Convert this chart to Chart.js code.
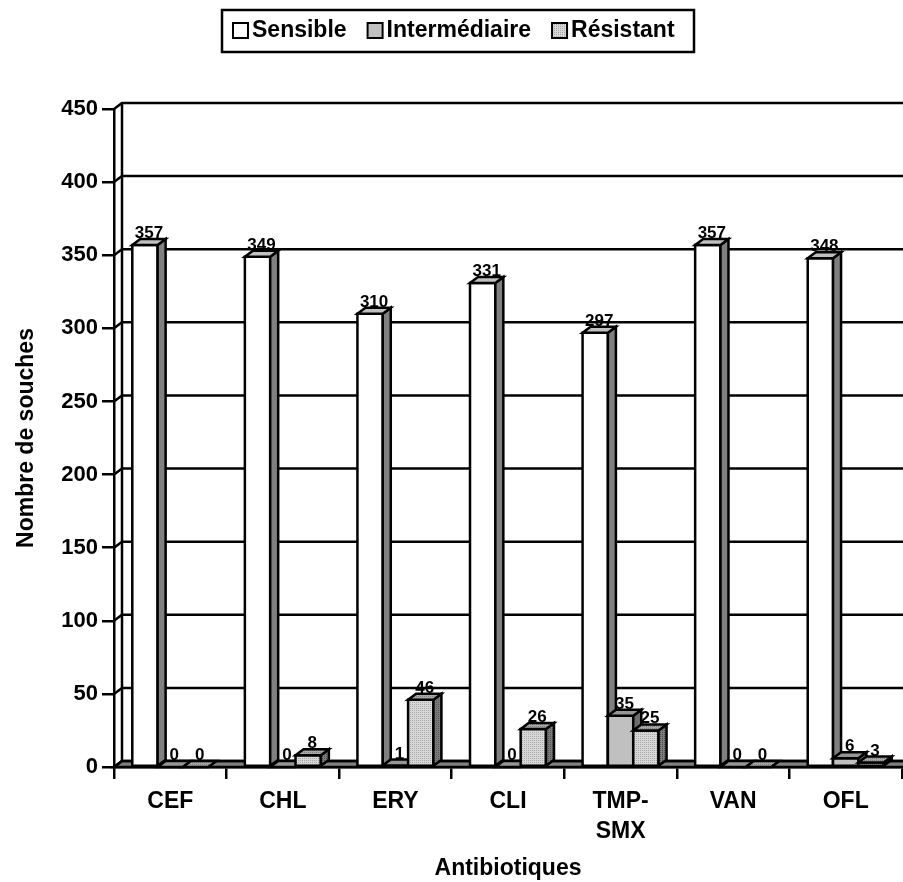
<!DOCTYPE html>
<html>
<head>
<meta charset="utf-8">
<script src="https://cdn.jsdelivr.net/npm/chart.js@4.4.1/dist/chart.umd.min.js"></script>
<style>
  html, body { margin: 0; padding: 0; background: #fff; }
  canvas { display: block; }
</style>
</head>
<body>
<canvas id="chart" width="903" height="882"></canvas>
<script>
// data
var categories = ['CEF', 'CHL', 'ERY', 'CLI', ['TMP-', 'SMX'], 'VAN', 'OFL'];
var seriesNames = ['Sensible', 'Intermédiaire', 'Résistant'];
var sensible = [357, 349, 310, 331, 297, 357, 348];
var intermediaire = [0, 0, 1, 0, 35, 0, 6];
var resistant = [0, 8, 46, 26, 25, 0, 3];
var yMax = 450;
var yStep = 50;

var FONT = 'Liberation Sans, Arial, sans-serif';
var DX = 8, DY = -6;   // depth of the 3d effect

var canvas = document.getElementById('chart');
var ctx = canvas.getContext('2d');

function dots(base, dot) {
  var c = document.createElement('canvas');
  c.width = 4; c.height = 4;
  var g = c.getContext('2d');
  g.fillStyle = base; g.fillRect(0, 0, 4, 4);
  g.fillStyle = dot;
  g.fillRect(0, 0, 1, 1); g.fillRect(2, 2, 1, 1);
  g.fillRect(2, 0, 1, 1); g.fillRect(0, 2, 1, 1);
  return ctx.createPattern(c, 'repeat');
}

// front / top / side colours per series
var faces = [
  { front: '#ffffff', top: '#c0c0c0', side: '#808080' },
  { front: '#c0c0c0', top: '#969696', side: '#6e6e6e' },
  { front: dots('#d8d8d8', '#a8a8a8'), top: dots('#a8a8a8', '#808080'), side: dots('#7c7c7c', '#505050') }
];

function poly(pts, fill) {
  ctx.beginPath();
  ctx.moveTo(pts[0][0], pts[0][1]);
  for (var k = 1; k < pts.length; k++) ctx.lineTo(pts[k][0], pts[k][1]);
  ctx.closePath();
  ctx.fillStyle = fill;
  ctx.fill();
  ctx.stroke();
}

var threeD = {
  id: 'threeD',
  beforeDatasetsDraw: function(chart) {
    var a = chart.chartArea, y = chart.scales.y;
    ctx.save();
    ctx.strokeStyle = '#000';
    ctx.lineWidth = 2.5;
    var y0 = y.getPixelForValue(0);
    var yTop = y.getPixelForValue(yMax);
    // floor
    poly([[a.left, y0], [a.right + 20, y0], [a.right + 20 + DX, y0 + DY], [a.left + DX, y0 + DY]], '#808080');
    // back wall lines
    y.ticks.forEach(function(t) {
      var py = y.getPixelForValue(t.value);
      ctx.beginPath();
      ctx.moveTo(a.left, py);
      ctx.lineTo(a.left + DX, py + DY);
      ctx.lineTo(chart.width + 5, py + DY);
      ctx.stroke();
    });
    ctx.beginPath();
    ctx.moveTo(a.left + DX, yTop + DY);
    ctx.lineTo(a.left + DX, y0 + DY);
    ctx.stroke();
    ctx.restore();
  },
  afterDatasetsDraw: function(chart) {
    ctx.save();
    ctx.strokeStyle = '#000';
    ctx.lineWidth = 2.5;
    ctx.lineJoin = 'miter';
    var labels = [];
    chart.data.datasets.forEach(function(ds, i) {
      var f = faces[i];
      chart.getDatasetMeta(i).data.forEach(function(bar, j) {
        var p = bar.getProps(['x', 'y', 'base', 'width'], true);
        var l = p.x - p.width / 2, r = p.x + p.width / 2;
        if (p.base - p.y > 0.5) poly([[l, p.y], [r, p.y], [r, p.base], [l, p.base]], f.front);
        poly([[r, p.y], [r + DX, p.y + DY], [r + DX, p.base + DY], [r, p.base]], f.side);
        poly([[l, p.y], [r, p.y], [r + DX, p.y + DY], [l + DX, p.y + DY]], f.top);
        labels.push([ds.data[j], p.x + DX / 2, p.y + DY - 1]);
      });
    });
    ctx.fillStyle = '#000';
    ctx.font = 'bold 17px ' + FONT;
    ctx.textAlign = 'center';
    ctx.textBaseline = 'alphabetic';
    labels.forEach(function(t) { ctx.fillText(String(t[0]), t[1], t[2]); });
    ctx.restore();
  },
  afterDraw: function(chart) {
    // boxed legend
    ctx.save();
    ctx.strokeStyle = '#000';
    ctx.lineWidth = 2.5;
    ctx.strokeRect(222, 10, 472, 42);
    ctx.font = 'bold 23px ' + FONT;
    ctx.textBaseline = 'middle';
    ctx.textAlign = 'left';
    var x = 233;
    chart.data.datasets.forEach(function(ds, i) {
      ctx.lineWidth = 2;
      ctx.fillStyle = faces[i].front;
      ctx.fillRect(x, 23, 15, 15);
      ctx.strokeRect(x, 23, 15, 15);
      ctx.fillStyle = '#000';
      ctx.fillText(ds.label, x + 19, 31);
      x += 19 + ctx.measureText(ds.label).width + 21;
    });
    ctx.restore();
  }
};

var datasets = [sensible, intermediaire, resistant].map(function(values, i) {
  return {
    label: seriesNames[i],
    data: values,
    backgroundColor: 'rgba(0,0,0,0)',
    borderWidth: 0,
    categoryPercentage: 0.675,
    barPercentage: 1.0
  };
});

new Chart(canvas, {
  type: 'bar',
  data: { labels: categories, datasets: datasets },
  options: {
    responsive: false,
    animation: false,
    events: [],
    layout: { padding: { top: 109, right: 1, left: 0, bottom: 0 } },
    plugins: { legend: { display: false }, tooltip: { enabled: false } },
    scales: {
      x: {
        offset: true,
        afterFit: function(s) { s.height = 115; },
        grid: { offset: true, drawOnChartArea: false, drawTicks: true, tickLength: 12, color: '#000', lineWidth: 2.5 },
        border: { display: true, color: '#000', width: 2.5 },
        ticks: { color: '#000', padding: 8, maxRotation: 0, autoSkip: false,
                 font: { family: FONT, size: 23, weight: 'bold', lineHeight: 1.3 } },
        title: { display: true, text: 'Antibiotiques', color: '#000', padding: { top: 0, bottom: 0 },
                 font: { family: FONT, size: 23, weight: 'bold' } }
      },
      y: {
        min: 0,
        max: yMax,
        afterFit: function(s) { s.width = 114; },
        grid: { drawOnChartArea: false, drawTicks: true, tickLength: 12, color: '#000', lineWidth: 2.5 },
        border: { display: true, color: '#000', width: 2.5 },
        ticks: { stepSize: yStep, color: '#000', padding: 4,
                 font: { family: FONT, size: 22, weight: 'bold' } },
        title: { display: true, text: 'Nombre de souches', color: '#000', padding: { top: 13, bottom: 0 },
                 font: { family: FONT, size: 23, weight: 'bold' } }
      }
    }
  },
  plugins: [threeD]
});
</script>
</body>
</html>
